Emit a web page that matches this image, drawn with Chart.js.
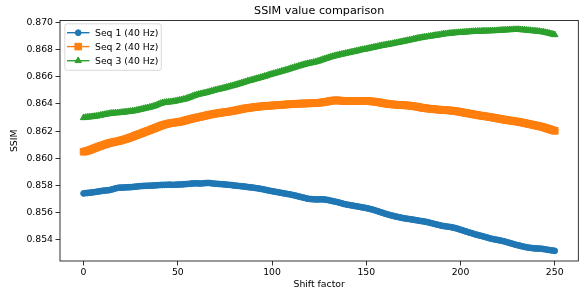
<!DOCTYPE html>
<html><head><meta charset="utf-8">
<script src="https://cdn.jsdelivr.net/npm/chart.js@4"></script>
<style>html,body{margin:0;padding:0;background:#fff;}canvas{display:block}</style>
</head><body>
<canvas id="c" width="584" height="290"></canvas>
<script>
const shiftFactor = [
0,1,2,3,4,5,6,7,8,9,10,11,12,13,14,15,16,17,18,19,20,21,22,23,24,25,26,27,28,29,
30,31,32,33,34,35,36,37,38,39,40,41,42,43,44,45,46,47,48,49,50,51,52,53,54,55,56,57,58,59,
60,61,62,63,64,65,66,67,68,69,70,71,72,73,74,75,76,77,78,79,80,81,82,83,84,85,86,87,88,89,
90,91,92,93,94,95,96,97,98,99,100,101,102,103,104,105,106,107,108,109,110,111,112,113,114,115,116,117,118,119,
120,121,122,123,124,125,126,127,128,129,130,131,132,133,134,135,136,137,138,139,140,141,142,143,144,145,146,147,148,149,
150,151,152,153,154,155,156,157,158,159,160,161,162,163,164,165,166,167,168,169,170,171,172,173,174,175,176,177,178,179,
180,181,182,183,184,185,186,187,188,189,190,191,192,193,194,195,196,197,198,199,200,201,202,203,204,205,206,207,208,209,
210,211,212,213,214,215,216,217,218,219,220,221,222,223,224,225,226,227,228,229,230,231,232,233,234,235,236,237,238,239,
240,241,242,243,244,245,246,247,248,249,250];

const seq1 = [
0.85742,0.85744,0.85745,0.85747,0.85748,0.85750,0.85752,0.85754,0.85756,0.85759,
0.85761,0.85763,0.85764,0.85765,0.85767,0.85771,0.85775,0.85779,0.85782,0.85784,
0.85785,0.85785,0.85786,0.85787,0.85787,0.85788,0.85789,0.85791,0.85792,0.85794,
0.85795,0.85796,0.85797,0.85798,0.85798,0.85799,0.85799,0.85800,0.85801,0.85802,
0.85803,0.85804,0.85804,0.85805,0.85805,0.85806,0.85806,0.85805,0.85805,0.85806,
0.85807,0.85808,0.85808,0.85809,0.85810,0.85811,0.85812,0.85814,0.85815,0.85816,
0.85816,0.85815,0.85814,0.85816,0.85817,0.85818,0.85819,0.85818,0.85816,0.85814,
0.85813,0.85812,0.85811,0.85810,0.85809,0.85808,0.85806,0.85805,0.85804,0.85802,
0.85800,0.85799,0.85797,0.85796,0.85794,0.85793,0.85791,0.85789,0.85787,0.85786,
0.85784,0.85782,0.85780,0.85778,0.85775,0.85773,0.85770,0.85767,0.85764,0.85761,
0.85758,0.85756,0.85753,0.85751,0.85748,0.85746,0.85743,0.85741,0.85738,0.85736,
0.85733,0.85730,0.85727,0.85724,0.85720,0.85717,0.85713,0.85710,0.85706,0.85703,
0.85701,0.85700,0.85699,0.85698,0.85698,0.85698,0.85699,0.85698,0.85697,0.85695,
0.85692,0.85689,0.85686,0.85683,0.85680,0.85677,0.85673,0.85669,0.85665,0.85662,
0.85659,0.85657,0.85654,0.85652,0.85649,0.85647,0.85644,0.85642,0.85639,0.85637,
0.85634,0.85631,0.85628,0.85624,0.85620,0.85616,0.85611,0.85607,0.85602,0.85598,
0.85593,0.85589,0.85585,0.85581,0.85578,0.85574,0.85571,0.85568,0.85565,0.85562,
0.85559,0.85557,0.85555,0.85553,0.85551,0.85549,0.85546,0.85544,0.85541,0.85539,
0.85537,0.85535,0.85532,0.85529,0.85525,0.85522,0.85518,0.85515,0.85511,0.85508,
0.85504,0.85502,0.85500,0.85498,0.85496,0.85494,0.85491,0.85488,0.85484,0.85480,
0.85475,0.85471,0.85466,0.85462,0.85457,0.85453,0.85449,0.85445,0.85440,0.85437,
0.85433,0.85430,0.85426,0.85422,0.85418,0.85414,0.85410,0.85407,0.85404,0.85402,
0.85399,0.85396,0.85393,0.85390,0.85386,0.85382,0.85378,0.85374,0.85370,0.85366,
0.85362,0.85359,0.85356,0.85352,0.85349,0.85346,0.85344,0.85342,0.85340,0.85338,
0.85337,0.85337,0.85336,0.85335,0.85333,0.85331,0.85328,0.85326,0.85324,0.85322,
0.85320];

const seq2 = [
0.86048,0.86051,0.86055,0.86059,0.86064,0.86070,0.86075,0.86081,0.86086,0.86091,
0.86095,0.86100,0.86104,0.86109,0.86113,0.86116,0.86119,0.86122,0.86125,0.86128,
0.86132,0.86136,0.86140,0.86144,0.86149,0.86154,0.86159,0.86164,0.86170,0.86175,
0.86180,0.86185,0.86191,0.86196,0.86201,0.86206,0.86212,0.86217,0.86223,0.86228,
0.86234,0.86239,0.86244,0.86248,0.86252,0.86255,0.86258,0.86260,0.86262,0.86264,
0.86266,0.86268,0.86271,0.86274,0.86278,0.86282,0.86286,0.86289,0.86293,0.86296,
0.86299,0.86302,0.86305,0.86308,0.86311,0.86314,0.86318,0.86321,0.86323,0.86326,
0.86328,0.86331,0.86333,0.86335,0.86337,0.86339,0.86341,0.86343,0.86345,0.86347,
0.86350,0.86353,0.86356,0.86359,0.86362,0.86365,0.86367,0.86369,0.86371,0.86373,
0.86375,0.86377,0.86378,0.86380,0.86381,0.86383,0.86384,0.86385,0.86386,0.86387,
0.86388,0.86389,0.86390,0.86391,0.86392,0.86393,0.86394,0.86395,0.86396,0.86397,
0.86398,0.86399,0.86400,0.86401,0.86401,0.86402,0.86402,0.86403,0.86403,0.86404,
0.86404,0.86405,0.86405,0.86406,0.86407,0.86408,0.86410,0.86412,0.86414,0.86416,
0.86419,0.86422,0.86424,0.86425,0.86426,0.86425,0.86424,0.86423,0.86422,0.86421,
0.86421,0.86420,0.86420,0.86420,0.86420,0.86420,0.86421,0.86421,0.86421,0.86421,
0.86420,0.86420,0.86419,0.86418,0.86417,0.86415,0.86413,0.86411,0.86408,0.86405,
0.86403,0.86401,0.86399,0.86397,0.86396,0.86395,0.86394,0.86393,0.86392,0.86391,
0.86390,0.86389,0.86388,0.86387,0.86385,0.86383,0.86381,0.86379,0.86376,0.86373,
0.86371,0.86369,0.86367,0.86365,0.86364,0.86362,0.86361,0.86359,0.86358,0.86357,
0.86356,0.86355,0.86354,0.86353,0.86352,0.86351,0.86349,0.86347,0.86345,0.86343,
0.86340,0.86338,0.86335,0.86333,0.86330,0.86328,0.86325,0.86323,0.86320,0.86318,
0.86315,0.86313,0.86311,0.86309,0.86307,0.86305,0.86302,0.86300,0.86297,0.86295,
0.86292,0.86290,0.86287,0.86285,0.86282,0.86280,0.86278,0.86276,0.86274,0.86272,
0.86270,0.86268,0.86265,0.86262,0.86259,0.86256,0.86253,0.86250,0.86247,0.86244,
0.86241,0.86238,0.86235,0.86232,0.86228,0.86224,0.86219,0.86215,0.86210,0.86206,
0.86202];

const seq3 = [
0.86298,0.86300,0.86302,0.86303,0.86305,0.86306,0.86308,0.86310,0.86313,0.86316,
0.86319,0.86321,0.86324,0.86326,0.86329,0.86331,0.86332,0.86333,0.86334,0.86335,
0.86337,0.86338,0.86340,0.86341,0.86343,0.86345,0.86347,0.86349,0.86352,0.86355,
0.86358,0.86361,0.86365,0.86368,0.86371,0.86374,0.86378,0.86382,0.86386,0.86392,
0.86398,0.86403,0.86408,0.86410,0.86412,0.86413,0.86414,0.86416,0.86418,0.86421,
0.86424,0.86427,0.86430,0.86433,0.86436,0.86441,0.86446,0.86451,0.86457,0.86462,
0.86466,0.86470,0.86473,0.86476,0.86479,0.86482,0.86486,0.86490,0.86494,0.86498,
0.86502,0.86505,0.86508,0.86511,0.86515,0.86518,0.86522,0.86526,0.86530,0.86533,
0.86537,0.86541,0.86545,0.86549,0.86554,0.86558,0.86563,0.86567,0.86571,0.86574,
0.86578,0.86582,0.86586,0.86590,0.86594,0.86598,0.86602,0.86606,0.86611,0.86615,
0.86619,0.86623,0.86627,0.86631,0.86635,0.86639,0.86643,0.86647,0.86651,0.86655,
0.86660,0.86664,0.86669,0.86673,0.86677,0.86681,0.86685,0.86689,0.86693,0.86696,
0.86699,0.86702,0.86705,0.86708,0.86712,0.86716,0.86721,0.86726,0.86731,0.86735,
0.86740,0.86744,0.86748,0.86751,0.86755,0.86758,0.86762,0.86765,0.86768,0.86771,
0.86774,0.86777,0.86780,0.86783,0.86786,0.86789,0.86793,0.86796,0.86799,0.86801,
0.86804,0.86807,0.86810,0.86813,0.86816,0.86819,0.86822,0.86825,0.86828,0.86830,
0.86833,0.86835,0.86838,0.86840,0.86843,0.86846,0.86849,0.86851,0.86854,0.86857,
0.86860,0.86863,0.86866,0.86869,0.86872,0.86875,0.86878,0.86881,0.86884,0.86886,
0.86889,0.86891,0.86893,0.86895,0.86897,0.86899,0.86902,0.86904,0.86906,0.86908,
0.86911,0.86913,0.86915,0.86916,0.86918,0.86919,0.86921,0.86922,0.86923,0.86924,
0.86925,0.86926,0.86927,0.86928,0.86929,0.86930,0.86931,0.86932,0.86933,0.86933,
0.86934,0.86934,0.86935,0.86935,0.86936,0.86936,0.86937,0.86937,0.86938,0.86938,
0.86939,0.86940,0.86941,0.86942,0.86943,0.86944,0.86945,0.86945,0.86946,0.86946,
0.86946,0.86946,0.86945,0.86944,0.86943,0.86942,0.86940,0.86939,0.86937,0.86936,
0.86935,0.86933,0.86932,0.86930,0.86928,0.86925,0.86922,0.86919,0.86915,0.86912,
0.86908];

const seriesLabels = ['Seq 1 (40 Hz)', 'Seq 2 (40 Hz)', 'Seq 3 (40 Hz)'];
const xTicks = [0, 50, 100, 150, 200, 250];
const yTicks = [0.854, 0.856, 0.858, 0.860, 0.862, 0.864, 0.866, 0.868, 0.870];
const titleText = 'SSIM value comparison';
const xTitle = 'Shift factor';
const yTitle = 'SSIM';

const COLORS = ['#1f77b4', '#ff7f0e', '#2ca02c'];
const STYLES = ['circle', 'rect', 'triangle'];
const RADII = [2.9, 4.7, 3.8];
const FONT = '"DejaVu Sans", sans-serif';
const FS = 9.3;

function pts(arr) { return shiftFactor.map((x, i) => ({x: x, y: arr[i]})); }

const allSeries = [seq1, seq2, seq3];
const datasets = allSeries.map((s, i) => ({
  label: seriesLabels[i],
  data: pts(s),
  borderColor: COLORS[i],
  backgroundColor: COLORS[i],
  borderWidth: 1.4,
  pointStyle: STYLES[i],
  pointRadius: RADII[i],
  pointBorderWidth: 1,
  pointBorderColor: COLORS[i],
  pointBackgroundColor: COLORS[i],
  tension: 0,
  order: 3 - i
}));

function drawMarker(ctx, style, x, y, r) {
  ctx.beginPath();
  if (style === 'circle') {
    ctx.arc(x, y, r, 0, Math.PI * 2);
  } else if (style === 'rect') {
    const s = r * Math.SQRT1_2;
    ctx.rect(x - s, y - s, 2 * s, 2 * s);
  } else {
    for (let k = 0; k < 3; k++) {
      const a = k * 2 * Math.PI / 3;
      const px = x + Math.sin(a) * r, py = y - Math.cos(a) * r;
      if (k === 0) ctx.moveTo(px, py); else ctx.lineTo(px, py);
    }
    ctx.closePath();
  }
  ctx.fill();
  ctx.stroke();
}

const decor = {
  id: 'decor',
  afterDraw(chart) {
    const {ctx, chartArea: a} = chart;
    ctx.save();
    ctx.strokeStyle = '#000';
    ctx.lineWidth = 0.8;
    ctx.strokeRect(a.left, a.top, a.right - a.left, a.bottom - a.top);
    ctx.fillStyle = '#000';
    ctx.font = '11.2px ' + FONT;
    ctx.textAlign = 'center';
    ctx.textBaseline = 'middle';
    ctx.fillText(titleText, (a.left + a.right) / 2, 10.8);
    const lx = 64.8, ly = 23.8, lw = 96.5, lh = 46.5;
    ctx.beginPath();
    ctx.roundRect(lx, ly, lw, lh, 2.5);
    ctx.fillStyle = 'rgba(255,255,255,0.8)';
    ctx.fill();
    ctx.strokeStyle = '#d0d0d0';
    ctx.lineWidth = 0.8;
    ctx.stroke();
    const rows = [32.7, 46.6, 60.7];
    ctx.font = FS + 'px ' + FONT;
    ctx.textAlign = 'left';
    for (let i = 0; i < 3; i++) {
      const y = rows[i];
      ctx.strokeStyle = COLORS[i];
      ctx.fillStyle = COLORS[i];
      ctx.lineWidth = 1.4;
      ctx.beginPath();
      ctx.moveTo(67, y); ctx.lineTo(89.5, y);
      ctx.stroke();
      ctx.lineWidth = 1;
      drawMarker(ctx, STYLES[i], 78.2, y, RADII[i]);
      ctx.fillStyle = '#000';
      ctx.fillText(seriesLabels[i], 95, y + 0.5);
    }
    ctx.restore();
  }
};

new Chart(document.getElementById('c'), {
  type: 'line',
  data: {datasets: datasets},
  options: {
    responsive: false,
    animation: false,
    events: [],
    layout: {padding: {top: 20.5, right: 1, left: 0, bottom: 0}},
    plugins: {legend: {display: false}, title: {display: false}, tooltip: {enabled: false}},
    scales: {
      x: {
        type: 'linear',
        min: -12.5, max: 262.5,
        afterBuildTicks: (s) => { s.ticks = xTicks.map(v => ({value: v})); },
        afterFit: (s) => { s.height = 29; },
        border: {display: false},
        grid: {drawOnChartArea: false, drawTicks: true, tickLength: 4.5, color: '#000', lineWidth: 0.8},
        ticks: {color: '#000', font: {family: FONT, size: FS}, padding: 1.5, maxRotation: 0, autoSkip: false,
                callback: (v) => String(v)},
        title: {display: true, text: xTitle, color: '#000', font: {family: FONT, size: FS}, padding: {top: 0, bottom: 0}}
      },
      y: {
        type: 'linear',
        min: 0.85245, max: 0.87013,
        afterBuildTicks: (s) => { s.ticks = yTicks.map(v => ({value: v})); },
        afterFit: (s) => { s.width = 60; },
        border: {display: false},
        grid: {drawOnChartArea: false, drawTicks: true, tickLength: 4.5, color: '#000', lineWidth: 0.8},
        ticks: {color: '#000', font: {family: FONT, size: FS}, padding: 2.5, autoSkip: false,
                callback: (v) => Number(v).toFixed(3)},
        title: {display: true, text: yTitle, color: '#000', font: {family: FONT, size: FS}, padding: {top: 9.4, bottom: 0}}
      }
    }
  },
  plugins: [decor]
});
</script>
</body></html>
